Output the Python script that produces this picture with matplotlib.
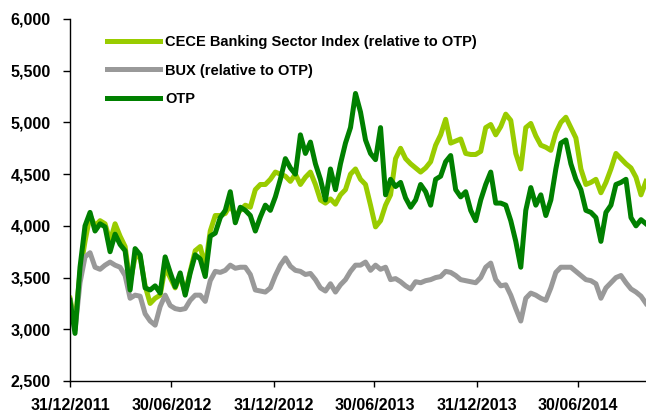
import pandas as pd
import matplotlib.pyplot as plt
import matplotlib.dates as mdates
from matplotlib.ticker import FuncFormatter

plt.rcParams["font.family"] = ["Liberation Sans", "DejaVu Sans"]
plt.rcParams["font.weight"] = "bold"

# one reading roughly every 9 days, starting 31/12/2011
dates = pd.date_range("2011-12-31", periods=116, freq="9D")

otp = [3280, 2960, 3600, 4000, 4130, 3950, 4020, 3990, 3750, 3920,
       3820, 3760, 3380, 3780, 3720, 3400, 3380, 3420, 3350, 3700,
       3550, 3410, 3545, 3330, 3545, 3720, 3680, 3510, 3900, 3930,
       4080, 4150, 4330, 4030, 4180, 4150, 4100, 3950, 4085, 4200,
       4150, 4280, 4450, 4650, 4560, 4500, 4880, 4700, 4810, 4600,
       4450, 4250, 4550, 4350, 4600, 4800, 4950, 5280, 5100, 4830,
       4700, 4640, 4950, 4300, 4450, 4380, 4420, 4270, 4180, 4250,
       4400, 4330, 4200, 4450, 4480, 4620, 4680, 4350, 4280, 4330,
       4150, 4050, 4250, 4400, 4520, 4220, 4220, 4200, 4050, 3850,
       3600, 4150, 4370, 4200, 4300, 4100, 4250, 4550, 4800, 4830,
       4600, 4450, 4350, 4150, 4130, 4080, 3850, 4130, 4200, 4400,
       4420, 4450, 4080, 4000, 4060, 4020]

cece = [3300, 3050, 3550, 3850, 4100, 4000, 4050, 4020, 3850, 4020,
        3900, 3800, 3450, 3700, 3700, 3420, 3250, 3300, 3330, 3600,
        3500, 3400, 3520, 3350, 3560, 3760, 3800, 3600, 3950, 4100,
        4100, 4120, 4200, 4100, 4150, 4200, 4180, 4350, 4400, 4400,
        4450, 4520, 4500, 4480, 4430, 4500, 4400, 4470, 4520, 4400,
        4250, 4220, 4260, 4210, 4300, 4350, 4500, 4550, 4450, 4400,
        4200, 3990, 4050, 4200, 4300, 4650, 4750, 4650, 4600, 4560,
        4520, 4560, 4620, 4780, 4880, 5030, 4800, 4820, 4840, 4700,
        4690, 4690, 4720, 4950, 4980, 4880, 4960, 5080, 5020, 4700,
        4550, 4950, 4990, 4870, 4780, 4760, 4730, 4900, 5000, 5050,
        4950, 4850, 4550, 4400, 4420, 4450, 4320, 4420, 4550, 4700,
        4650, 4600, 4560, 4470, 4300, 4430]

bux = [3280, 2990, 3450, 3700, 3740, 3600, 3580, 3620, 3650, 3620,
       3600, 3520, 3300, 3330, 3320, 3150, 3080, 3040, 3220, 3330,
       3230, 3200, 3190, 3200, 3280, 3330, 3330, 3270, 3470, 3560,
       3550, 3570, 3620, 3590, 3600, 3600, 3530, 3380, 3370, 3360,
       3400, 3520, 3620, 3690, 3610, 3570, 3560, 3530, 3540, 3480,
       3400, 3370, 3440, 3360, 3430, 3480, 3560, 3620, 3620, 3650,
       3570, 3620, 3580, 3600, 3480, 3490, 3460, 3420, 3390, 3460,
       3450, 3470, 3480, 3500, 3510, 3560, 3550, 3520, 3480, 3470,
       3460, 3450, 3500, 3600, 3640, 3480, 3420, 3430, 3330, 3200,
       3080, 3300, 3350, 3330, 3300, 3280, 3400, 3550, 3600, 3600,
       3600, 3560, 3520, 3480, 3470, 3440, 3300, 3400, 3450, 3500,
       3520, 3450, 3390, 3360, 3320, 3250]

tick_dates = pd.to_datetime(["2011-12-31", "2012-06-30", "2012-12-31",
                             "2013-06-30", "2013-12-31", "2014-06-30"])

fig = plt.figure(figsize=(6.46, 4.12), dpi=100)
ax = fig.add_axes([70 / 646, 31 / 412, 576 / 646, 362 / 412])

ax.plot(dates, cece, color="#99CC00", lw=3.6, label="CECE Banking Sector Index (relative to OTP)")
ax.plot(dates, bux, color="#999999", lw=3.6, label="BUX (relative to OTP)")
ax.plot(dates, otp, color="#008000", lw=3.6, label="OTP")

ax.set_ylim(2500, 6000)
ax.set_yticks(range(2500, 6001, 500))
ax.yaxis.set_major_formatter(FuncFormatter(lambda v, p: f"{int(v):,}"))
ax.set_xlim(dates[0], dates[-1])
ax.set_xticks(tick_dates)
ax.xaxis.set_major_formatter(mdates.DateFormatter("%d/%m/%Y"))

for s in ["top", "right"]:
    ax.spines[s].set_visible(False)
ax.spines["left"].set_linewidth(1.0)
ax.spines["bottom"].set_linewidth(1.0)
ax.tick_params(axis="y", length=5, width=1, labelsize=11.5, pad=9)
ax.tick_params(axis="x", length=4, width=1, labelsize=11.5, pad=8)

ax.legend(loc="upper left", bbox_to_anchor=(107 / 646, 1 - 35 / 412),
          bbox_transform=fig.transFigure, frameon=False, fontsize=10.5,
          handlelength=3.6, handletextpad=0.4, labelspacing=1.0,
          borderpad=0, borderaxespad=0)

fig.savefig("out.png", dpi=100)
